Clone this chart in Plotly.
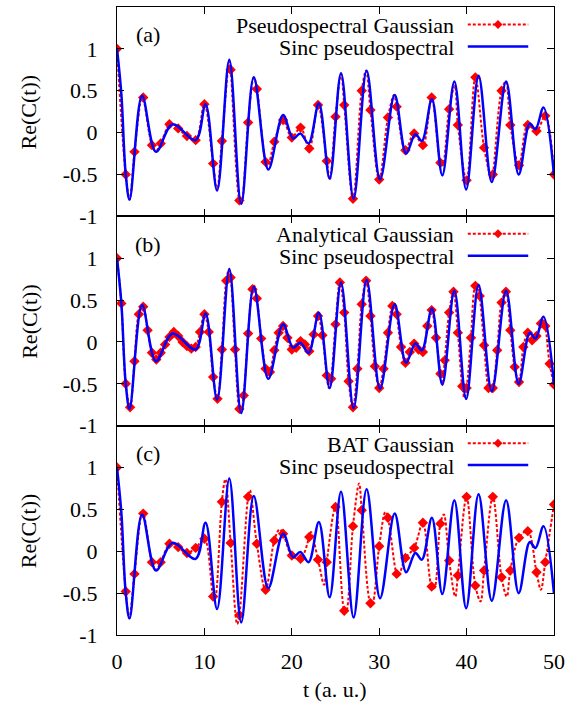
import plotly.graph_objects as go

# ---------------- data ----------------
# Sinc pseudospectral (same reference curve in all three panels)
blue_t = [0, 0.5, 1.0, 1.44, 2.87, 4.46, 6.35, 8.99, 10.13, 11.45, 12.85, 14.21, 15.65,
          17.31, 19.0, 20.15, 20.98, 21.92, 23.1, 24.33, 25.63, 27.07, 28.56, 30.1,
          31.77, 33.08, 34.14, 34.88, 36.03, 37.22, 38.6, 39.95, 41.37, 42.88, 44.52,
          45.96, 47.23, 47.88, 48.8, 50.0]
blue_v = [1.0, 0.46, -0.50, -0.80, 0.44, -0.23, 0.10, -0.09, 0.34, -0.69, 0.87, -0.85, 0.66,
          -0.44, 0.21, -0.07, -0.01, -0.13, 0.35, -0.55, 0.71, -0.79, 0.74, -0.56,
          0.45, -0.25, -0.02, -0.10, 0.40, -0.51, 0.61, -0.68, 0.68, -0.59, 0.61,
          -0.50, 0.11, 0.04, 0.30, -0.51]

# (a) Pseudospectral Gaussian (markers at integer t)
red_a_t = [0, 1, 1.44, 2, 2.87, 3, 4, 4.46, 5, 6, 6.4, 7, 8, 9, 10, 11, 11.45, 12, 12.85, 13,
           14, 14.21, 15, 15.65, 16, 17, 17.25, 18, 19, 20, 21, 22, 23, 24, 24.35, 25, 25.65,
           26, 27, 28, 28.5, 29, 30, 31, 31.7, 32, 33, 34, 35, 36, 37, 37.25, 38, 38.65,
           39, 40, 41, 42, 42.85, 43, 44, 44.5, 45, 46, 47, 48, 49, 50]
red_a_v = [1.0, -0.50, -0.80, -0.23, 0.44, 0.42, -0.15, -0.22, -0.13, 0.10, 0.11, 0.05, -0.04,
           -0.09, 0.34, -0.37, -0.69, -0.10, 0.85, 0.75, -0.81, -0.85, 0.12, 0.66, 0.52,
           -0.35, -0.40, -0.11, 0.15, -0.06, 0.06, -0.19, 0.33, -0.34, -0.56, 0.19, 0.70,
           0.33, -0.79, 0.50, 0.74, 0.27, -0.56, 0.18, 0.45, 0.31, -0.21, -0.01, -0.15,
           0.42, -0.36, -0.39, 0.28, 0.56, 0.09, -0.57, 0.66, -0.18, -0.55, -0.50, 0.50,
           0.61, 0.09, -0.39, 0.09, 0.02, 0.20, -0.50]

# (b) Analytical Gaussian (markers every 0.5)
red_b_t = [0, 0.5, 1, 1.5, 2, 2.5, 3, 3.5, 4, 4.5, 5, 5.5, 6, 6.5, 7, 7.5, 8, 8.5, 9, 9.5,
           10, 10.5, 11, 11.5, 12, 12.5, 12.8, 13, 13.5, 14, 14.2, 14.5, 15, 15.5, 15.7, 16,
           16.5, 17, 17.25, 17.5, 18, 18.5, 19, 19.5, 20, 20.5, 21, 21.5, 22, 22.5, 23, 23.5,
           24, 24.25, 24.5, 25, 25.5, 26, 26.5, 27, 27.5, 28, 28.5, 29, 29.5, 30, 30.5, 31,
           31.5, 31.75, 32, 32.5, 33, 33.5, 34, 34.5, 35, 35.5, 36, 36.5, 37, 37.2, 37.5, 38,
           38.5, 39, 39.5, 39.75, 40, 40.5, 41, 41.25, 41.5, 42, 42.5, 42.75, 43, 43.5, 44,
           44.5, 45, 45.5, 46, 46.5, 47, 47.5, 48, 48.5, 48.75, 49, 49.5, 50]
red_b_v = [1.0, 0.46, -0.50, -0.78, -0.23, 0.33, 0.42, 0.14, -0.13, -0.21, -0.13, -0.03, 0.06,
           0.12, 0.07, 0.00, -0.05, -0.08, -0.06, 0.12, 0.33, 0.12, -0.42, -0.68, -0.09,
           0.73, 0.86, 0.77, -0.09, -0.80, -0.84, -0.64, 0.10, 0.63, 0.67, 0.52, 0.04, -0.32,
           -0.40, -0.36, -0.10, 0.11, 0.19, 0.05, -0.09, -0.07, 0.01, -0.03, -0.11, 0.09,
           0.31, 0.08, -0.40, -0.55, -0.44, 0.21, 0.71, 0.35, -0.47, -0.78, -0.32, 0.45,
           0.73, 0.31, -0.29, -0.55, -0.32, 0.11, 0.43, 0.46, 0.33, -0.06, -0.25, -0.12,
           -0.02, -0.09, -0.12, 0.19, 0.38, 0.05, -0.38, -0.50, -0.22, 0.35, 0.60, 0.11,
           -0.53, -0.67, -0.55, 0.05, 0.67, 0.69, 0.55, -0.04, -0.55, -0.60, -0.55, -0.10,
           0.47, 0.60, 0.14, -0.30, -0.48, -0.06, 0.11, 0.02, 0.07, 0.22, 0.28, 0.19, -0.26,
           -0.51]

# (c) BAT Gaussian (markers at integer t)
red_c_t = [0, 1, 1.4, 2, 2.87, 3, 4, 4.46, 5, 6, 6.4, 7, 8, 9, 10, 11, 11.2, 12, 12.4, 13,
           13.75, 14, 15, 15.2, 16, 17, 18, 18.6, 19, 20, 21, 22, 22.2, 23, 23.7, 24, 25, 26,
           26.2, 27, 27.7, 28, 29, 29.2, 30, 30.7, 31, 32, 32.2, 33, 34, 35, 36, 36.3, 37,
           37.4, 38, 38.7, 39, 40, 41, 41.6, 42, 43, 44, 44.6, 45, 46, 47, 48, 48.5, 49, 50]
red_c_v = [1.0, -0.48, -0.80, -0.27, 0.45, 0.45, -0.13, -0.22, -0.13, 0.09, 0.10, 0.05, -0.02,
           0.04, 0.15, -0.54, -0.58, 0.59, 0.86, 0.10, -0.87, -0.76, 0.65, 0.73, 0.09, -0.46,
           0.13, 0.26, 0.21, -0.05, -0.09, 0.17, 0.23, -0.10, -0.40, -0.13, 0.53, -0.71,
           -0.73, 0.30, 0.81, 0.49, -0.62, -0.63, 0.06, 0.47, 0.40, -0.27, -0.29, -0.08,
           0.04, 0.34, -0.42, -0.44, 0.33, 0.44, -0.11, -0.54, -0.29, 0.65, -0.41, -0.60,
           -0.23, 0.65, -0.31, -0.54, -0.23, 0.16, 0.24, -0.25, -0.46, -0.13, 0.56]

labels = ["(a)", "(b)", "(c)"]
legend_names = ["Pseudospectral Gaussian", "Analytical Gaussian", "BAT Gaussian"]
blue_name = "Sinc pseudospectral"
x_ticks = [0, 10, 20, 30, 40, 50]
y_ticks = [-1, -0.5, 0, 0.5, 1]
y_ticktext = ["-1", "-0.5", "0", "0.5", "1"]
x_title = "t (a. u.)"
y_title = "Re(C(t))"

# ---------------- layout geometry ----------------
W, H = 571, 707
ML, MR, MT, MB = 117, 13, 6, 72
PW, PH = W - ML - MR, H - MT - MB
FONT = "Liberation Serif, Times New Roman, serif"
RED, BLUE = "#ff0000", "#0000ff"

def px2x(px):
    return (px - ML) / PW

def py2y(py):
    return (H - MB - py) / PH

fig = go.Figure()
series = [(red_a_t, red_a_v, 1.0), (red_b_t, red_b_v, 0.5), (red_c_t, red_c_v, 1.0)]
for i, (rt, rv, step) in enumerate(series):
    xa = "x" if i == 0 else f"x{i+1}"
    ya = "y" if i == 0 else f"y{i+1}"
    fig.add_trace(go.Scatter(x=rt, y=rv, mode="lines", xaxis=xa, yaxis=ya,
                             line=dict(color=RED, width=2, dash="3px,2px", shape="spline"),
                             showlegend=False, hoverinfo="skip"))
    on_grid = [abs(t / step - round(t / step)) < 1e-9 for t in rt]
    mt = [t for t, g in zip(rt, on_grid) if g]
    mv = [v for v, g in zip(rv, on_grid) if g]
    fig.add_trace(go.Scatter(x=mt, y=mv, mode="markers", xaxis=xa, yaxis=ya,
                             marker=dict(color=RED, size=8, symbol="diamond"),
                             showlegend=False, hoverinfo="skip"))
    fig.add_trace(go.Scatter(x=blue_t, y=blue_v, mode="lines", xaxis=xa, yaxis=ya,
                             line=dict(color=BLUE, width=2.5, shape="spline"),
                             showlegend=False, hoverinfo="skip"))

axis_common = dict(ticks="inside", ticklen=7, tickwidth=1, tickcolor="black",
                   showline=True, linecolor="black", linewidth=1.2, mirror="ticks",
                   showgrid=False, zeroline=False,
                   tickfont=dict(family=FONT, size=22, color="black"))

layout = dict(width=W, height=H, margin=dict(l=ML, r=MR, t=MT, b=MB),
              paper_bgcolor="white", plot_bgcolor="white", showlegend=False,
              font=dict(family=FONT, size=22, color="black"))
shapes, annots = [], []
for i in range(3):
    sfx = "" if i == 0 else str(i + 1)
    dom = [(2 - i) / 3, (3 - i) / 3]
    layout["xaxis" + sfx] = dict(axis_common, range=[0, 50], tickvals=x_ticks,
                                 anchor="y" + sfx, domain=[0, 1],
                                 showticklabels=(i == 2), ticklabelstandoff=6,
                                 matches=None if i == 0 else "x")
    layout["yaxis" + sfx] = dict(axis_common, range=[-1, 1.5], tickvals=y_ticks,
                                 ticktext=y_ticktext, anchor="x" + sfx, domain=dom,
                                 ticklabelstandoff=14)
    top = MT + i * PH / 3
    # panel label
    annots.append(dict(text=labels[i], x=px2x(148), y=py2y(top + 28), xref="paper",
                       yref="paper", showarrow=False, xanchor="center", yanchor="middle",
                       font=dict(family=FONT, size=22)))
    # y title
    annots.append(dict(text=y_title, x=px2x(28), y=py2y(top + PH / 6), xref="paper",
                       yref="paper", showarrow=False, textangle=-90, xanchor="center",
                       yanchor="middle", font=dict(family=FONT, size=22)))
    # legend (text right-aligned, sample to the right as in the reference)
    for j, (name, col) in enumerate([(legend_names[i], RED), (blue_name, BLUE)]):
        ry = top + 17.5 + j * 22
        annots.append(dict(text=name, x=px2x(459), y=py2y(ry + 1), xref="paper",
                           yref="paper", showarrow=False, xanchor="right",
                           yanchor="middle", font=dict(family=FONT, size=22)))
        if j == 0:
            shapes.append(dict(type="line", xref="paper", yref="paper",
                               x0=px2x(471), x1=px2x(532), y0=py2y(ry), y1=py2y(ry),
                               line=dict(color=RED, width=2, dash="3px,2px")))
            cx, cy, r = 501.5, ry, 4.5
            shapes.append(dict(type="path", xref="paper", yref="paper",
                               path=f"M {px2x(cx-r)} {py2y(cy)} L {px2x(cx)} {py2y(cy-r)} "
                                    f"L {px2x(cx+r)} {py2y(cy)} L {px2x(cx)} {py2y(cy+r)} Z",
                               fillcolor=RED, line=dict(color=RED, width=0)))
        else:
            shapes.append(dict(type="line", xref="paper", yref="paper",
                               x0=px2x(471), x1=px2x(532), y0=py2y(ry), y1=py2y(ry),
                               line=dict(color=BLUE, width=2.5)))

annots.append(dict(text=x_title, x=px2x(337), y=py2y(690), xref="paper", yref="paper",
                   showarrow=False, xanchor="center", yanchor="middle",
                   font=dict(family=FONT, size=22)))
layout["shapes"] = shapes
layout["annotations"] = annots
fig.update_layout(**layout)
fig.write_html("out.html")
